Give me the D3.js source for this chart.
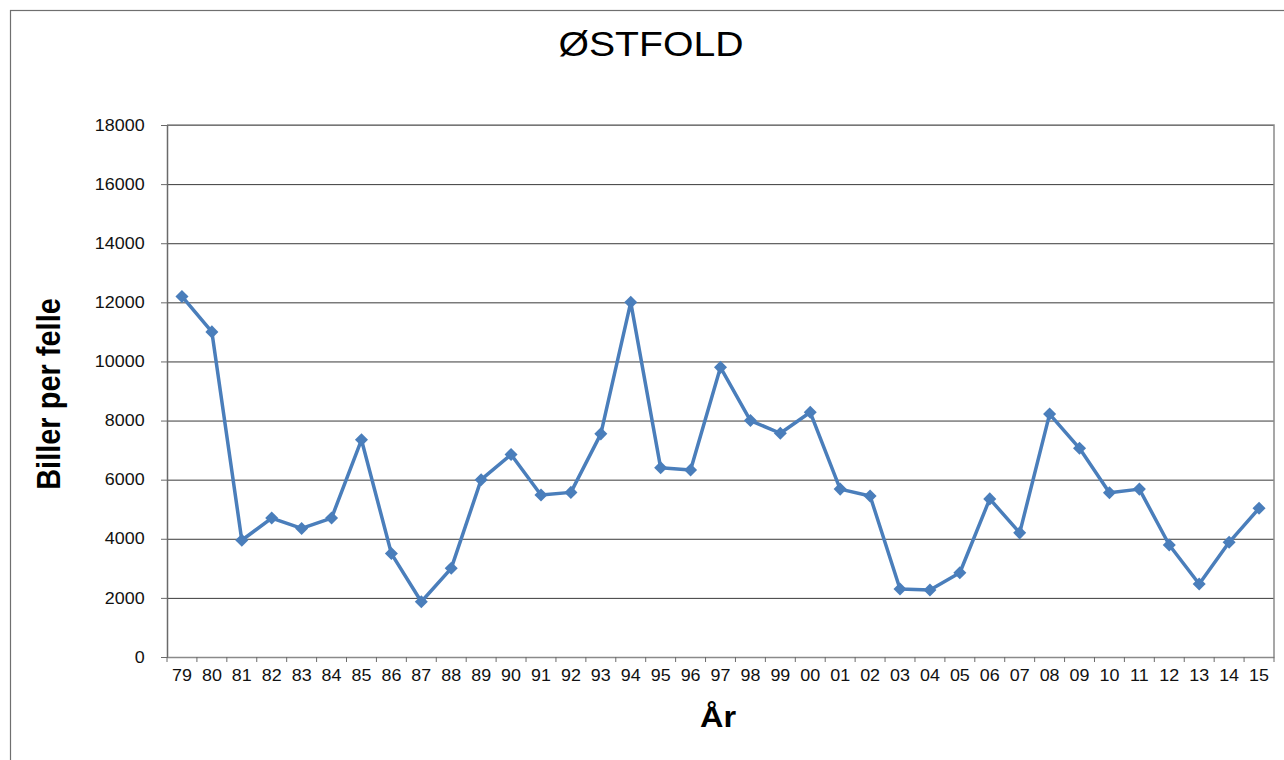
<!DOCTYPE html>
<html>
<head>
<meta charset="utf-8">
<script src="https://cdn.jsdelivr.net/npm/d3@7"></script>
<style>
  body { margin: 0; background: #fff; }
  svg { display: block; font-family: "Liberation Sans", Arial, sans-serif; }
</style>
</head>
<body>
<div id="wrapper"></div>
<script>
// years (last two digits) and beetles per trap
const years = ["79","80","81","82","83","84","85","86","87","88","89","90","91","92","93","94","95","96","97","98","99",
               "00","01","02","03","04","05","06","07","08","09","10","11","12","13","14","15"];
const beetles = [12200,11000,3950,4700,4350,4700,7350,3500,1870,3000,6000,6850,5480,5570,7550,12000,6400,6330,9800,8000,7570,
                 8280,5680,5450,2300,2270,2850,5350,4200,8220,7060,5560,5680,3790,2470,3880,5030];
const yTicks = [0,2000,4000,6000,8000,10000,12000,14000,16000,18000];

const title = "ØSTFOLD";
const xTitle = "År";
const yTitle = "Biller per felle";

let dimensions = {
  width: 1284,
  height: 760,
  margin: { top: 125, left: 167, bottom: 103, right: 10 }
}
dimensions.boundedWidth = dimensions.width - dimensions.margin.left - dimensions.margin.right;
dimensions.boundedHeight = dimensions.height - dimensions.margin.top - dimensions.margin.bottom;

const stretch = 1.12; // text in the picture is a bit wide

const svg = d3.select("#wrapper").append("svg")
  .attr("width", dimensions.width)
  .attr("height", dimensions.height);

// outer frame
svg.append("rect")
  .attr("x", 10.5).attr("y", 10.5)
  .attr("width", 1300).attr("height", 800)
  .attr("fill", "none")
  .attr("stroke", "#6f6f6f")
  .attr("stroke-width", 1.2);

const bounds = svg.append("g")
  .attr("transform", `translate(${dimensions.margin.left},${dimensions.margin.top})`);

const xScale = d3.scaleBand()
  .domain(years)
  .range([0, dimensions.boundedWidth])
  .padding(0);

const yScale = d3.scaleLinear()
  .domain([0, 18000])
  .range([dimensions.boundedHeight, 0]);

// grid lines
const grid = bounds.append("g")
  .call(d3.axisLeft(yScale).tickValues(yTicks).tickSize(-dimensions.boundedWidth).tickFormat(""));
grid.select(".domain").remove();
grid.selectAll("line").attr("stroke", "#3a3a3a").attr("stroke-width", 1);

// plot area frame (top + right)
bounds.append("path")
  .attr("d", `M0,0H${dimensions.boundedWidth}V${dimensions.boundedHeight}`)
  .attr("fill", "none")
  .attr("stroke", "#8a8a8a")
  .attr("stroke-width", 1.5);

// y axis
const yAxis = bounds.append("g")
  .call(d3.axisLeft(yScale).tickValues(yTicks).tickFormat(d3.format("d"))
    .tickSize(6).tickPadding(14).tickSizeOuter(0));
yAxis.select(".domain").attr("stroke", "#6a6a6a").attr("stroke-width", 1.5);
yAxis.selectAll("line").attr("stroke", "#6a6a6a");
yAxis.selectAll("text")
  .attr("font-size", 16)
  .attr("fill", "#111")
  .attr("font-family", "Liberation Sans, Arial, sans-serif")
  .attr("transform", `scale(${stretch},1)`);

// x axis: labels centred on categories, ticks between categories
const xAxis = bounds.append("g")
  .attr("transform", `translate(0,${dimensions.boundedHeight})`)
  .call(d3.axisBottom(xScale).tickSize(0).tickPadding(13).tickSizeOuter(0));
xAxis.select(".domain").attr("stroke", "#8a8a8a").attr("stroke-width", 1.5);
xAxis.selectAll("text")
  .attr("font-size", 16)
  .attr("fill", "#111")
  .attr("font-family", "Liberation Sans, Arial, sans-serif")
  .attr("transform", `scale(${stretch},1)`);

const boundaries = years.map(y => xScale(y)).concat([xScale.range()[1]]);
xAxis.selectAll(".cat-tick")
  .data(boundaries)
  .enter()
  .append("line")
  .attr("x1", d => d).attr("x2", d => d)
  .attr("y1", 0).attr("y2", 5)
  .attr("stroke", "#6a6a6a");

// line + markers
const xAcc = (d, i) => xScale(years[i]) + xScale.bandwidth() / 2;
const yAcc = d => yScale(d);

bounds.append("path")
  .datum(beetles)
  .attr("d", d3.line().x(xAcc).y(yAcc))
  .attr("fill", "none")
  .attr("stroke", "#4a7ebb")
  .attr("stroke-width", 3.5)
  .attr("stroke-linejoin", "round");

const diamond = d3.symbol().type(d3.symbolSquare).size(85);
bounds.selectAll(".marker")
  .data(beetles)
  .enter()
  .append("path")
  .attr("d", diamond)
  .attr("transform", (d, i) => `translate(${xAcc(d, i)},${yAcc(d)}) rotate(45)`)
  .attr("fill", "#4a7ebb");

// titles
svg.append("text")
  .attr("transform", `translate(651,56) scale(${stretch},1)`)
  .attr("text-anchor", "middle")
  .attr("font-size", 35)
  .attr("fill", "#000")
  .text(title);

svg.append("text")
  .attr("transform", `translate(718,727) scale(${stretch},1)`)
  .attr("text-anchor", "middle")
  .attr("font-size", 29)
  .attr("font-weight", "bold")
  .attr("fill", "#000")
  .text(xTitle);

svg.append("text")
  .attr("transform", `translate(60,394) rotate(-90) scale(1,${stretch})`)
  .attr("text-anchor", "middle")
  .attr("font-size", 29)
  .attr("font-weight", "bold")
  .attr("fill", "#000")
  .text(yTitle);
</script>
</body>
</html>
